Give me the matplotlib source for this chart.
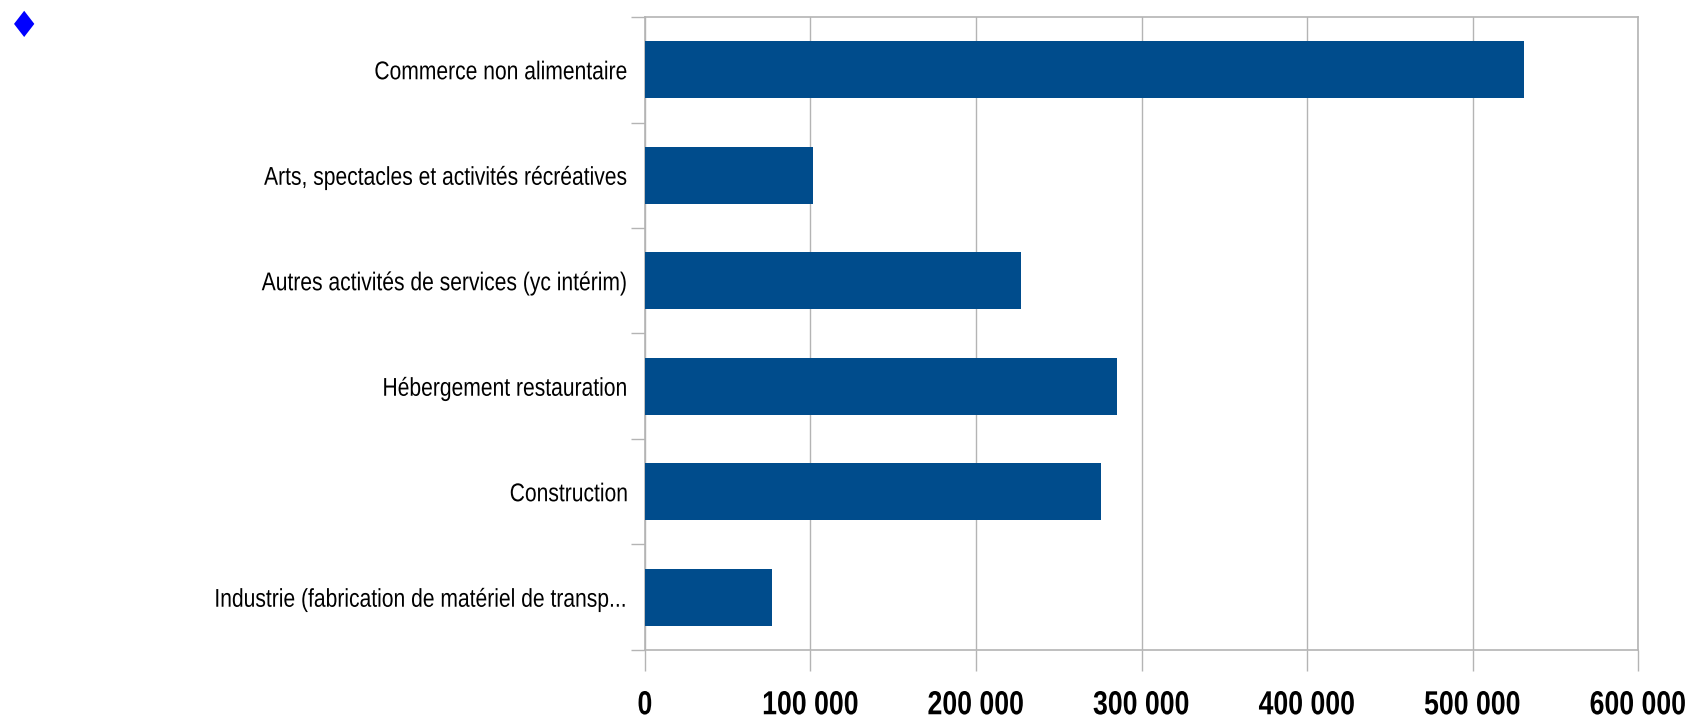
import matplotlib

matplotlib.use("Agg")
import matplotlib.pyplot as plt  # noqa: E402
import numpy as np  # noqa: E402
from matplotlib.patheffects import AbstractPathEffect  # noqa: E402
from matplotlib.transforms import Affine2D  # noqa: E402

categories = [
    "Commerce non alimentaire",
    "Arts, spectacles et activités récréatives",
    "Autres activités de services (yc intérim)",
    "Hébergement restauration",
    "Construction",
    "Industrie (fabrication de matériel de transp...",
]
values = [531000, 101500, 227000, 285000, 275500, 77000]
xticks = [0, 100000, 200000, 300000, 400000, 500000, 600000]
xtick_labels = ["0", "100 000", "200 000", "300 000", "400 000", "500 000", "600 000"]

grid_col = "#b4b4b4"
font = ["Liberation Sans", "DejaVu Sans"]


class Narrow(AbstractPathEffect):
    """Squeeze text horizontally (no narrow font installed)."""

    def __init__(self, sx, anchor):
        super().__init__()
        self.sx = sx
        self.anchor = anchor

    def draw_path(self, renderer, gc, tpath, affine, rgbFace=None):
        ext = tpath.get_extents(affine)
        a = {"left": ext.x0, "center": (ext.x0 + ext.x1) / 2, "right": ext.x1}[self.anchor]
        squeeze = Affine2D().translate(-a, 0).scale(self.sx, 1).translate(a, 0)
        renderer.draw_path(gc, tpath, affine + squeeze, rgbFace)


fig = plt.figure(figsize=(16.91, 7.21), dpi=100)
ax = fig.add_axes([0.3814, 0.0985, 0.5873, 0.8779])

y = np.arange(len(categories))
ax.barh(y, values, height=0.54, color="#004c8c", zorder=3)
ax.set_ylim(len(categories) - 0.5, -0.5)
ax.set_xlim(0, 600000)

ax.set_yticks(y)
ax.set_yticklabels(categories, family=font, fontsize=18.5)
ax.set_yticks(np.arange(len(categories) + 1) - 0.5, minor=True)
ax.tick_params(axis="y", which="major", length=0, pad=12)
ax.tick_params(axis="y", which="minor", length=10, color=grid_col, width=1)

ax.set_xticks(xticks)
ax.set_xticklabels(xtick_labels, family=font, fontsize=24, fontweight="bold")
ax.tick_params(axis="x", length=15, color=grid_col, width=1, pad=14)

for lbl in ax.get_yticklabels():
    lbl.set_path_effects([Narrow(0.82, "right")])
for lbl in ax.get_xticklabels():
    lbl.set_path_effects([Narrow(0.8, "center")])

ax.grid(axis="x", color=grid_col, linewidth=1, zorder=0)
for s in ax.spines.values():
    s.set_color(grid_col)
    s.set_linewidth(1.2)

fig.text(0.0145, 0.962, "\u2666", color="#0000ff", fontsize=26, ha="center", va="center")

fig.savefig("out.png", dpi=100)
